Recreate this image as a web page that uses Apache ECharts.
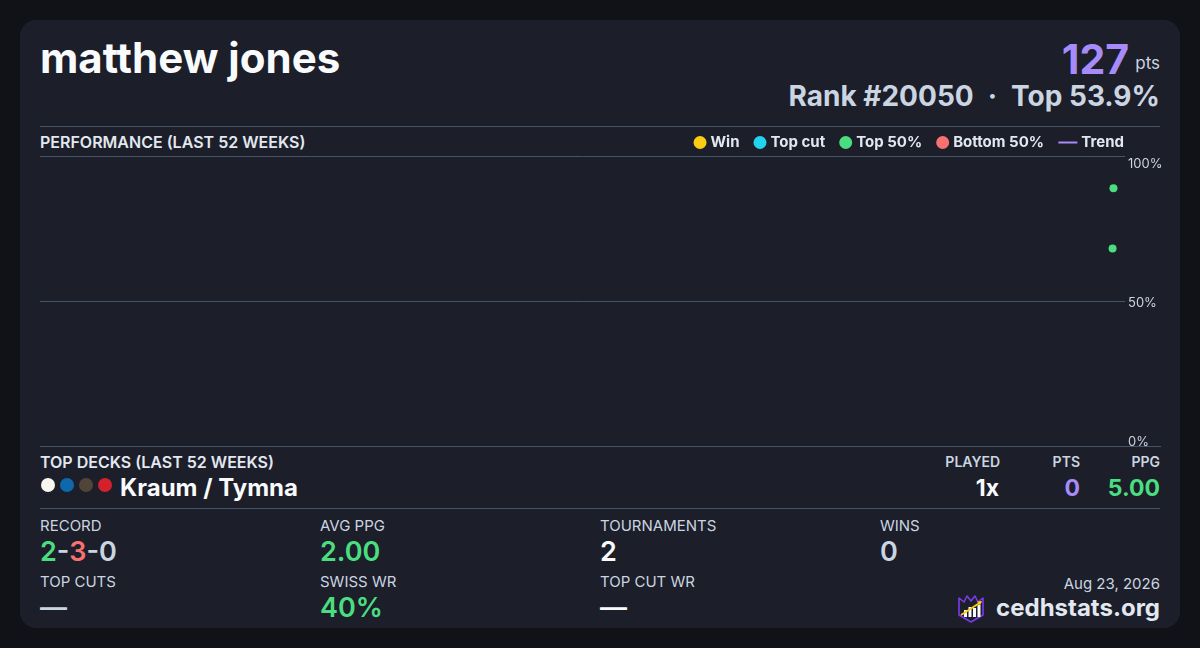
<!DOCTYPE html>
<html>
<head>
<meta charset="utf-8">
<script src="https://cdn.jsdelivr.net/npm/echarts@6/dist/echarts.min.js"></script>
<style>
  html, body { margin: 0; padding: 0; width: 1200px; height: 648px; background: #111217; overflow: hidden; }
  body { font-family: Inter, "Noto Sans", sans-serif; position: relative; }
  .card { position: absolute; left: 20px; top: 20px; width: 1160px; height: 608px; background: #1c1e29; border-radius: 16px; }
  .abs { position: absolute; white-space: nowrap; }
  .hr { position: absolute; height: 1px; background: #475569; }
  .r { text-align: right; }
  .lbl { font-size: 15px; color: #cbd5e1; line-height: 20px; }
  .val { font-size: 27px; font-weight: 600; line-height: 32px; }
  .pip { position: absolute; width: 14px; height: 14px; border-radius: 50%; top: 478px; }
  #chart { position: absolute; left: 40px; top: 126px; width: 1140px; height: 326px; }
</style>
</head>
<body>
<div class="card"></div>

<div class="abs" style="left:40px; top:36px; font-size:42px; font-weight:700; color:#f8fafc; line-height:44px;">matthew jones</div>
<div class="abs r" style="right:40px; top:34px; line-height:50px; color:#cbd5e1;">
  <span style="font-size:41px; font-weight:700; color:#a78bfa;">127</span><span style="font-size:17px; margin-left:6px; position:relative; top:-5px;">pts</span>
</div>
<div class="abs r" style="right:40px; top:80px; font-size:28px; font-weight:700; color:#cbd5e1; line-height:32px;">Rank #20050<span style="margin:0 14px;">·</span>Top 53.9%</div>

<div class="hr" style="left:40px; width:1120px; top:126px;"></div>
<div class="abs" style="left:40px; top:132px; font-size:16px; font-weight:600; color:#e2e8f0; line-height:20px;">PERFORMANCE (LAST 52 WEEKS)</div>

<div id="chart"></div>

<div class="hr" style="left:40px; width:1121px; top:446px;"></div>
<div class="abs" style="left:40px; top:452px; font-size:16px; font-weight:600; color:#e2e8f0; line-height:20px;">TOP DECKS (LAST 52 WEEKS)</div>
<div class="abs r" style="right:200px; top:452px; font-size:14px; font-weight:600; color:#cbd5e1; line-height:20px;">PLAYED</div>
<div class="abs r" style="right:120px; top:452px; font-size:14px; font-weight:600; color:#cbd5e1; line-height:20px;">PTS</div>
<div class="abs r" style="right:40px; top:452px; font-size:14px; font-weight:600; color:#cbd5e1; line-height:20px;">PPG</div>

<div class="pip" style="left:41px; background:#f8f7ef;"></div>
<div class="pip" style="left:60px; background:#0e68ab;"></div>
<div class="pip" style="left:79px; background:#4f4538;"></div>
<div class="pip" style="left:98px; background:#d3202a;"></div>
<div class="abs" style="left:120px; top:473px; font-size:24px; font-weight:700; color:#f8fafc; line-height:30px;">Kraum / Tymna</div>
<div class="abs r" style="right:201px; top:473px; font-size:23px; font-weight:700; color:#f8fafc; line-height:30px;">1x</div>
<div class="abs r" style="right:120px; top:473px; font-size:23px; font-weight:700; color:#a78bfa; line-height:30px;">0</div>
<div class="abs r" style="right:40px; top:473px; font-size:23px; font-weight:700; color:#4ade80; line-height:30px;">5.00</div>

<div class="hr" style="left:40px; width:1120px; top:508px;"></div>

<div class="abs lbl" style="left:40px; top:516px;">RECORD</div>
<div class="abs val" style="left:40px; top:536px; color:#cbd5e1;"><span style="color:#4ade80">2</span>-<span style="color:#f87171">3</span>-0</div>
<div class="abs lbl" style="left:320px; top:516px;">AVG PPG</div>
<div class="abs val" style="left:320px; top:536px; color:#4ade80;">2.00</div>
<div class="abs lbl" style="left:600px; top:516px;">TOURNAMENTS</div>
<div class="abs val" style="left:600px; top:536px; color:#f8fafc;">2</div>
<div class="abs lbl" style="left:880px; top:516px;">WINS</div>
<div class="abs val" style="left:880px; top:536px; color:#cbd5e1;">0</div>

<div class="abs lbl" style="left:40px; top:572px;">TOP CUTS</div>
<div class="abs val" style="left:40px; top:592px; color:#cbd5e1;">—</div>
<div class="abs lbl" style="left:320px; top:572px;">SWISS WR</div>
<div class="abs val" style="left:320px; top:592px; color:#4ade80;">40%</div>
<div class="abs lbl" style="left:600px; top:572px;">TOP CUT WR</div>
<div class="abs val" style="left:600px; top:592px; color:#f8fafc;">—</div>

<div class="abs lbl r" style="right:40px; top:574px;">Aug 23, 2026</div>
<svg class="abs" style="left:956px; top:593px;" width="30" height="30" viewBox="0 0 30 30">
  <path d="M3 5 L8 9 L11 3 L15 8 L19 3 L22 9 L27 5 L27 22 L15 29 L3 22 Z" fill="#1c1e29" stroke="#7c3aed" stroke-width="1.6" stroke-linejoin="round"/>
  <rect x="8" y="17" width="3" height="7" fill="#f8fafc"/>
  <rect x="12.5" y="14" width="3" height="10" fill="#f8fafc"/>
  <rect x="17" y="15" width="3" height="9" fill="#f8fafc"/>
  <rect x="21.5" y="12" width="3" height="12" fill="#f8fafc"/>
  <path d="M5 22 L25 9" stroke="#facc15" stroke-width="1.8"/>
  <path d="M26 8 L21 8.5 L24 12.5 Z" fill="#facc15"/>
</svg>
<div class="abs r" style="right:40px; top:593px; font-size:24px; font-weight:700; color:#e2e8f0; line-height:30px;">cedhstats.org</div>

<script>
// results over the last 52 weeks: [date, placement percentile]
var winPts = [];
var topCutPts = [];
var top50Pts = [['2026-08-19 03:00', 88.9], ['2026-08-18 20:00', 68.1]];
var bottom50Pts = [];
var trendPts = [];
var rangeStart = '2025-08-24';
var rangeEnd = '2026-08-23';
var yTicks = [0, 50, 100];

var chart = echarts.init(document.getElementById('chart'));
var dot = function (name, color, data) {
  return { name: name, type: 'scatter', data: data, symbolSize: 8, itemStyle: { color: color, opacity: 1 } };
};
var legendText = { color: '#e2e8f0', fontSize: 15, fontWeight: 700, fontFamily: 'Inter', padding: [0, 0, 0, -1] };
var option = {
  animation: false,
  textStyle: { fontFamily: 'Inter' },
  legend: [{
    data: ['Win', 'Top cut', 'Top 50%', 'Bottom 50%'],
    right: 136, top: 9, padding: 0, icon: 'circle', itemWidth: 13, itemHeight: 13, itemGap: 14,
    textStyle: legendText
  }, {
    data: ['Trend'],
    right: 56, top: 9, padding: 0, icon: 'rect', itemWidth: 19, itemHeight: 2,
    textStyle: legendText
  }],
  grid: { left: 0, right: 55, top: 30, bottom: 6, outerBoundsMode: 'none', containLabel: false },
  xAxis: { type: 'time', min: rangeStart, max: rangeEnd, show: false },
  yAxis: {
    type: 'value', position: 'right', min: yTicks[0], max: yTicks[2], interval: 50,
    axisLine: { show: false }, axisTick: { show: false },
    splitLine: { lineStyle: { color: '#475569', width: 1 } },
    axisLabel: {
      margin: 3, color: '#cbd5e1', fontSize: 13,
      formatter: function (v) {
        if (v === 100) return '{t|100%}';
        if (v === 0) return '{b|0%}';
        return '{m|' + v + '%}';
      },
      rich: {
        t: { fontSize: 13, color: '#cbd5e1', padding: [16, 0, 0, 0] },
        m: { fontSize: 13, color: '#cbd5e1', padding: [5, 0, 0, 0] },
        b: { fontSize: 13, color: '#cbd5e1', padding: [0, 0, 7, 0] }
      }
    }
  },
  series: [
    dot('Win', '#facc15', winPts),
    dot('Top cut', '#22d3ee', topCutPts),
    dot('Top 50%', '#4ade80', top50Pts),
    dot('Bottom 50%', '#f87171', bottom50Pts),
    { name: 'Trend', type: 'line', data: trendPts, symbol: 'none', itemStyle: { color: '#a78bfa' }, lineStyle: { color: '#a78bfa', width: 2 } }
  ]
};
chart.setOption(option);
</script>
</body>
</html>
